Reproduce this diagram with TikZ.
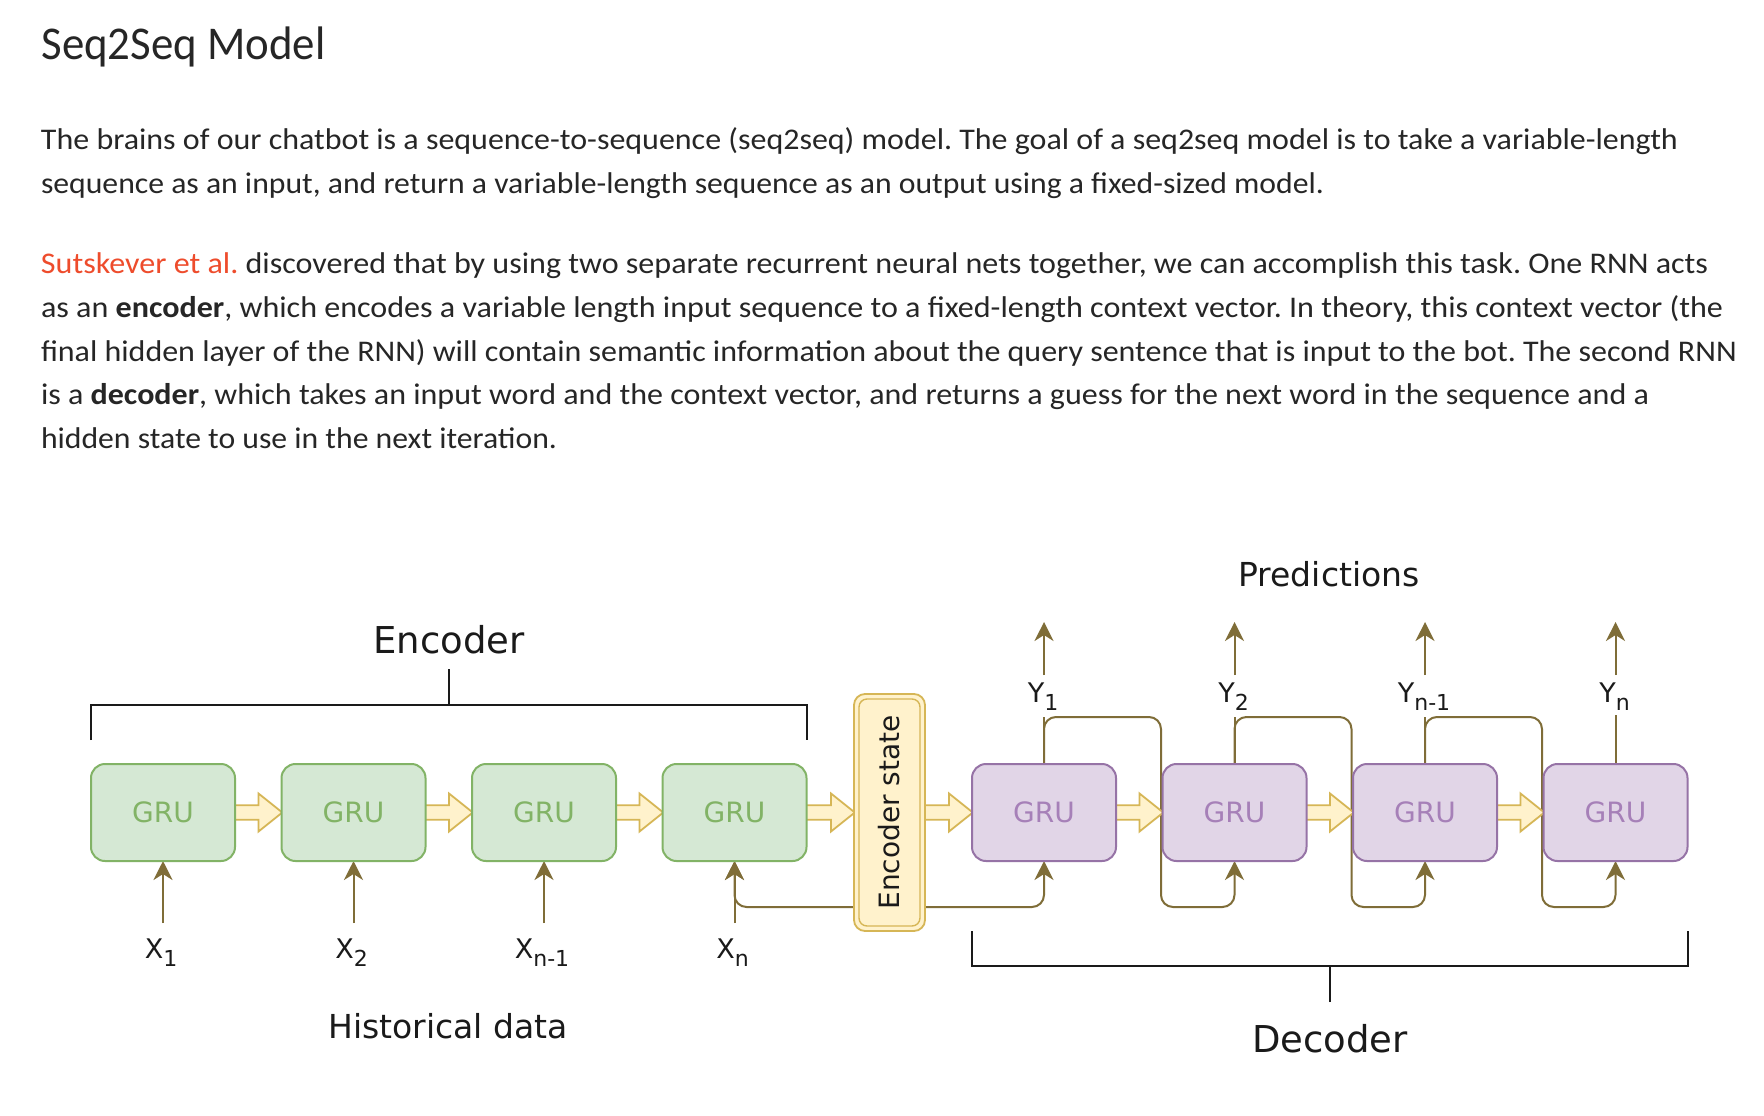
\documentclass[tikz,border=0pt]{standalone}
\usepackage{fontspec}
\usepackage{graphicx}
\usetikzlibrary{arrows.meta,calc}
\newfontfamily\dvfont{DejaVu Sans}
\newfontfamily\bodyfont{Carlito}
\frenchspacing
\definecolor{txt}{HTML}{262626}
\definecolor{ptorange}{HTML}{EE4C2C}
\definecolor{gfill}{HTML}{D5E8D4}
\definecolor{gline}{HTML}{82B366}
\definecolor{pfill}{HTML}{E1D5E7}
\definecolor{pline}{HTML}{9673A6}
\definecolor{ptext}{HTML}{A680B8}
\definecolor{yfill}{HTML}{FFF2CC}
\definecolor{yline}{HTML}{D6B656}
\definecolor{olivec}{HTML}{7F6D38}
\definecolor{lblc}{HTML}{1A1A1A}
\newcommand\fitline[2]{\resizebox{#1pt}{\height}{#2}}
\newcommand\sublbl[2]{#1\raisebox{-8pt}{\fontsize{22}{22}\selectfont #2}}
\newcommand\fatarr[2]{\draw[fatarrow] let \p1=(#1.east), \p2=(#2.west) in
  (\x1-2pt,\y1+7.3pt) -- (\x2-23pt,\y1+7.3pt) -- (\x2-23pt,\y1+19pt) -- (\x2+0.8pt,\y1)
  -- (\x2-23pt,\y1-19pt) -- (\x2-23pt,\y1-7.3pt) -- (\x1-2pt,\y1-7.3pt) -- cycle;}
\begin{document}
\begin{tikzpicture}[x=1pt,y=-1pt,
  >={Stealth[length=19pt,width=19pt,inset=6pt]},
  body/.style={inner sep=0pt, outer sep=0pt, text=txt, font=\bodyfont\fontsize{30}{30}\selectfont},
  gbox/.style={draw=gline, fill=gfill, line width=2pt, rounded corners=14pt, minimum width=144pt, minimum height=97pt, outer sep=0pt, inner sep=0pt, text=gline, font=\dvfont\fontsize{28}{28}\selectfont},
  pbox/.style={gbox, draw=pline, fill=pfill, text=ptext},
  esbox/.style={draw=yline, fill=yfill, line width=1.8pt, rounded corners=11pt, minimum width=71pt, minimum height=237pt, outer sep=0pt, inner sep=0pt},
  fatarrow/.style={draw=yline, fill=yfill, line width=1.8pt, line join=miter},
  conn/.style={draw=olivec, line width=2pt},
  brk/.style={draw=lblc, line width=2pt},
  lbl/.style={inner sep=0pt, text=lblc, font=\dvfont\fontsize{27}{27}\selectfont},
  midlbl/.style={inner sep=0pt, text=lblc, font=\dvfont\fontsize{33}{33}\selectfont},
  biglbl/.style={inner sep=0pt, text=lblc, font=\dvfont\fontsize{37}{37}\selectfont}
]
\useasboundingbox (0,0) rectangle (1764,1116);
\fill[white] (0,0) rectangle (1764,1116);

% ---- text ----
\node[body,anchor=base west] (title) at (41.5,60) {\fitline{284}{\fontsize{47}{47}\selectfont Seq2Seq Model}};
\node[body,anchor=base west] (p1a) at (41,149.3) {\fitline{1637}{The brains of our chatbot is a sequence-to-sequence (seq2seq) model. The goal of a seq2seq model is to take a variable-length}};
\node[body,anchor=base west] (p1b) at (41,193.3) {\fitline{1283}{sequence as an input, and return a variable-length sequence as an output using a fixed-sized model.}};
\node[body,anchor=base west] (p2a) at (41,273.3) {\fitline{1667}{{\color{ptorange}Sutskever et al.} discovered that by using two separate recurrent neural nets together, we can accomplish this task. One RNN acts}};
\node[body,anchor=base west] (p2b) at (41,317.1) {\fitline{1682}{as an \textbf{encoder}, which encodes a variable length input sequence to a fixed-length context vector. In theory, this context vector (the}};
\node[body,anchor=base west] (p2c) at (41,361) {\fitline{1696}{final hidden layer of the RNN) will contain semantic information about the query sentence that is input to the bot. The second RNN}};
\node[body,anchor=base west] (p2d) at (41,404.8) {\fitline{1608}{is a \textbf{decoder}, which takes an input word and the context vector, and returns a guess for the next word in the sequence and a}};
\node[body,anchor=base west] (p2e) at (41,448.6) {\fitline{516}{hidden state to use in the next iteration.}};

% ---- helper levels ----
\coordinate (jy) at (0,907);
\coordinate (ty) at (0,717);
\coordinate (xb) at (0,923);
\coordinate (yb) at (0,675);
\coordinate (yt) at (0,622);
\coordinate (xlab) at (0,958);
\coordinate (ylab) at (0,702);
\coordinate (ebr) at (0,705);
\coordinate (ebe) at (0,740);
\coordinate (ect) at (449,669);
\coordinate (dbr) at (0,966);
\coordinate (dbe) at (0,931);
\coordinate (dct) at (1330,1002);

% ---- node placement (invisible first pass for anchors) ----
\path
  (163,812.5) node[gbox, draw=none, fill=none, text opacity=0] (e1) {GRU}
  (353.5,812.5) node[gbox, draw=none, fill=none, text opacity=0] (e2) {GRU}
  (544,812.5) node[gbox, draw=none, fill=none, text opacity=0] (e3) {GRU}
  (734.5,812.5) node[gbox, draw=none, fill=none, text opacity=0] (e4) {GRU}
  (889.5,812.5) node[esbox, draw=none, fill=none] (es) {}
  (1044,812.5) node[pbox, draw=none, fill=none, text opacity=0] (d1) {GRU}
  (1234.5,812.5) node[pbox, draw=none, fill=none, text opacity=0] (d2) {GRU}
  (1425,812.5) node[pbox, draw=none, fill=none, text opacity=0] (d3) {GRU}
  (1615.5,812.5) node[pbox, draw=none, fill=none, text opacity=0] (d4) {GRU};

% ---- connectors (behind boxes) ----
\draw[conn,rounded corners=12pt,->] (es.west |- jy) -- (e4.south |- jy) -- (e4.south);
\draw[conn,rounded corners=12pt,->] (es.east |- jy) -- (d1.south |- jy) -- (d1.south);
\foreach \a/\b in {d1/d2,d2/d3,d3/d4}{
  \draw[conn] (\a.north) -- (\a.north |- ty);
  \draw[conn,rounded corners=12pt,->] (\a.north) -- (\a.north |- ty) -- ([xshift=-1.5pt]\b.west |- ty)
     -- ([xshift=-1.5pt]\b.west |- jy) -- (\b.south |- jy) -- (\b.south);
}
\draw[conn] (d4.north) -- ([yshift=2pt]d4.north |- ty);
\foreach \n in {e1,e2,e3,e4}{
  \draw[conn,->] (\n.south |- xb) -- (\n.south);
}
\foreach \n in {d1,d2,d3,d4}{
  \draw[conn,->] (\n.north |- yb) -- (\n.north |- yt);
}

% ---- fat arrows ----
\fatarr{e1}{e2}
\fatarr{e2}{e3}
\fatarr{e3}{e4}
\fatarr{e4}{es}
\fatarr{es}{d1}
\fatarr{d1}{d2}
\fatarr{d2}{d3}
\fatarr{d3}{d4}

% ---- boxes ----
\node[gbox] (E1) at (e1) {GRU};
\node[gbox] (E2) at (e2) {GRU};
\node[gbox] (E3) at (e3) {GRU};
\node[gbox] (E4) at (e4) {GRU};
\node[pbox] (D1) at (d1) {GRU};
\node[pbox] (D2) at (d2) {GRU};
\node[pbox] (D3) at (d3) {GRU};
\node[pbox] (D4) at (d4) {GRU};
\node[esbox] (ES) at (es) {};
\draw[yline, line width=1.4pt, rounded corners=8pt] ([shift={(5,5)}]ES.north west) rectangle ([shift={(-5,-5)}]ES.south east);
\node[rotate=90, inner sep=0pt, text=lblc, font=\dvfont\fontsize{28}{28}\selectfont] (estxt) at (ES.center) {Encoder state};

% ---- labels ----
\node[lbl,anchor=base,xshift=-2pt] (x1) at (e1.south |- xlab) {\sublbl{X}{1}};
\node[lbl,anchor=base,xshift=-2pt] (x2) at (e2.south |- xlab) {\sublbl{X}{2}};
\node[lbl,anchor=base,xshift=-2pt] (x3) at (e3.south |- xlab) {\sublbl{X}{n-1}};
\node[lbl,anchor=base,xshift=-2pt] (x4) at (e4.south |- xlab) {\sublbl{X}{n}};
\node[lbl,anchor=base,xshift=-1pt] (y1) at (d1.north |- ylab) {\sublbl{Y}{1}};
\node[lbl,anchor=base,xshift=-1pt] (y2) at (d2.north |- ylab) {\sublbl{Y}{2}};
\node[lbl,anchor=base,xshift=-1pt] (y3) at (d3.north |- ylab) {\sublbl{Y}{n-1}};
\node[lbl,anchor=base,xshift=-1pt] (y4) at (d4.north |- ylab) {\sublbl{Y}{n}};

\node[biglbl,anchor=base] (enc) at (449,653) {Encoder};
\node[midlbl,anchor=base] (hist) at (448,1038) {Historical data};
\node[midlbl,anchor=base] (pred) at (1329,586) {Predictions};
\node[biglbl,anchor=base] (dec) at (1330,1052) {Decoder};

% ---- brackets ----
\draw[brk] (e1.west |- ebe) -- (e1.west |- ebr) -- (e4.east |- ebr) -- (e4.east |- ebe);
\draw[brk] (ect) -- (ect |- ebr);
\draw[brk] (d1.west |- dbe) -- (d1.west |- dbr) -- (d4.east |- dbr) -- (d4.east |- dbe);
\draw[brk] (dct) -- (dct |- dbr);
\end{tikzpicture}
\end{document}
